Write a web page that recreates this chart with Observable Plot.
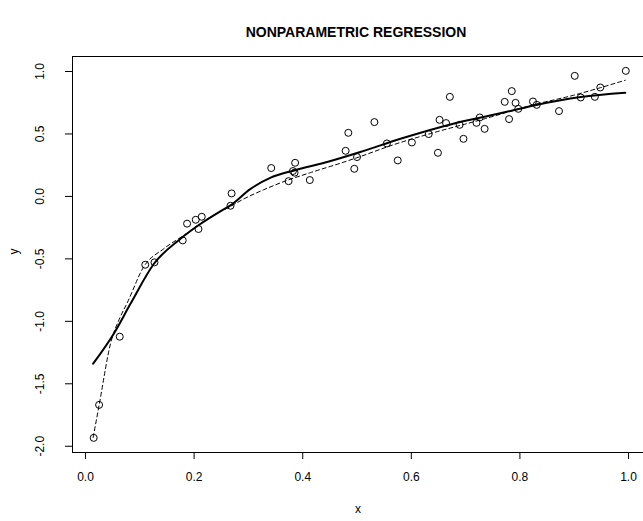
<!DOCTYPE html>
<html><head><meta charset="utf-8">
<script src="https://cdn.jsdelivr.net/npm/d3@7"></script>
<script src="https://cdn.jsdelivr.net/npm/@observablehq/plot@0.6"></script>
<style>
body{margin:0;background:#fff;font-family:"Liberation Sans",Arial,sans-serif;}
#title{width:643px;height:45px;box-sizing:border-box;padding-top:24px;padding-left:69px;font-size:14px;font-weight:bold;line-height:16px;text-align:center;color:#000;}
</style></head>
<body>
<div id="title">NONPARAMETRIC REGRESSION</div>
<div id="chart"></div>
<script>
const ptX = [0.015,0.025,0.063,0.110,0.127,0.179,0.187,0.203,0.208,0.214,0.267,0.269,0.342,0.374,0.382,0.385,0.386,0.413,0.479,0.484,0.495,0.500,0.532,0.555,0.575,0.601,0.632,0.649,0.652,0.664,0.671,0.689,0.696,0.720,0.726,0.735,0.772,0.780,0.785,0.792,0.797,0.824,0.831,0.872,0.901,0.912,0.938,0.948,0.995];
const ptY = [-1.933,-1.669,-1.123,-0.547,-0.528,-0.352,-0.218,-0.187,-0.261,-0.163,-0.075,0.024,0.227,0.122,0.203,0.190,0.269,0.131,0.365,0.509,0.221,0.315,0.595,0.424,0.288,0.432,0.499,0.349,0.613,0.587,0.797,0.573,0.461,0.589,0.632,0.541,0.757,0.619,0.843,0.749,0.701,0.760,0.733,0.683,0.965,0.792,0.797,0.872,1.005];
const fitX = [0.014,0.052,0.083,0.126,0.175,0.212,0.246,0.267,0.304,0.341,0.384,0.445,0.506,0.580,0.672,0.764,0.826,0.912,0.994];
const fitY = [-1.339,-1.099,-0.858,-0.539,-0.339,-0.219,-0.125,-0.072,0.060,0.150,0.208,0.275,0.355,0.461,0.576,0.665,0.728,0.795,0.829];
const trueX = [0.014,0.025,0.046,0.064,0.077,0.107,0.144,0.181,0.230,0.267,0.292,0.328,0.371,0.414,0.476,0.500,0.568,0.641,0.734,0.826,0.899,0.948,0.994];
const trueY = [-1.930,-1.672,-1.179,-0.965,-0.850,-0.565,-0.419,-0.312,-0.165,-0.080,-0.019,0.053,0.128,0.190,0.275,0.310,0.415,0.510,0.620,0.735,0.810,0.870,0.930];
const xTicks = [0,0.2,0.4,0.6,0.8,1.0];
const yTicks = [-2,-1.5,-1,-0.5,0,0.5,1];

const pts = ptX.map((x,i)=>({x, y: ptY[i]}));
const fit = fitX.map((x,i)=>({x, y: fitY[i]}));
const tru = trueX.map((x,i)=>({x, y: trueY[i]}));
const xd = [-0.024, 1.0276], yd = [-2.05, 1.12];

const chart = Plot.plot({
  width: 643, height: 476,
  marginTop: 11, marginBottom: 69, marginLeft: 72, marginRight: 0,
  style: {fontFamily: '"Liberation Sans", Arial, sans-serif', fontSize: "12px", color: "#000", background: "#fff"},
  x: {domain: xd, ticks: xTicks, label: null},
  y: {domain: yd, ticks: yTicks, label: null},
  marks: [
    Plot.axisX({ticks: xTicks, tickSize: 7, tickPadding: 13, tickFormat: d => d.toFixed(1), label: null, fontSize: 12, stroke: "#000", fill: "#000"}),
    Plot.axisY({ticks: yTicks, tickSize: 7, tickFormat: () => "", label: null, stroke: "#000"}),
    Plot.text(yTicks, {x: xd[0], y: d => d, text: d => (d < 0 ? "-" : "") + Math.abs(d).toFixed(1), rotate: -90, dx: -32, textAnchor: "middle", fontSize: 12, fill: "#000"}),
    Plot.ruleX([xd[0]], {stroke: "#000", strokeWidth: 1}),
    Plot.ruleY([yd[0], yd[1]], {stroke: "#000", strokeWidth: 1}),
    Plot.line(tru, {x: "x", y: "y", stroke: "#000", strokeWidth: 1, strokeDasharray: "4,3", curve: "monotone-x"}),
    Plot.line(fit, {x: "x", y: "y", stroke: "#000", strokeWidth: 2, curve: "monotone-x"}),
    Plot.dot(pts, {x: "x", y: "y", r: 3.5, stroke: "#000", strokeWidth: 1, fill: "none"}),
    Plot.text(["x"], {frameAnchor: "bottom", dy: 60, fontSize: 12, fill: "#000"}),
    Plot.text(["y"], {frameAnchor: "left", dx: -58, rotate: -90, fontSize: 12, fill: "#000"})
  ]
});
document.getElementById("chart").appendChild(chart);
</script>
</body></html>
